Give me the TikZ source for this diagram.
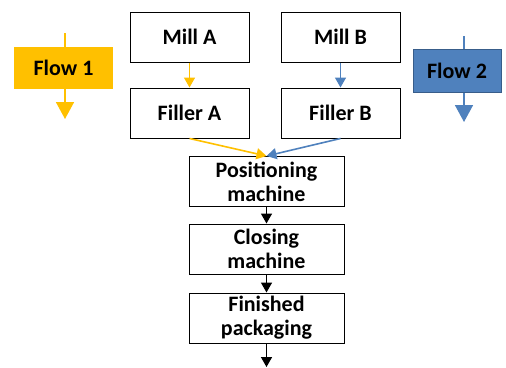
\documentclass[tikz,border=0pt]{standalone}
\usepackage{fontspec}
\setmainfont{Carlito}
\usepackage{xcolor}
\usetikzlibrary{arrows.meta}
\definecolor{flowgold}{RGB}{255, 192, 0}
\definecolor{flowblue}{RGB}{79, 129, 189}
\definecolor{flowblueedge}{RGB}{56, 93, 138}

\begin{document}
\begin{tikzpicture}[
    x=1pt, y=-1pt,
    font=\fontsize{22}{24}\selectfont\bfseries,
    box/.style={draw=black, line width=1pt, fill=white, align=center,
        minimum width=#1, minimum height=50pt, inner sep=2pt},
    box/.default=119pt,
    flowbox/.style={fill=#1, inner sep=0pt},
    link/.style={line width=1.6pt, -{Triangle[width=11pt,length=10pt]}},
    bigtip/.style={line width=1.6pt, -{Triangle[width=18pt,length=17pt]}}
]
    \useasboundingbox (0,0) rectangle (506,367);

    % ==========================================
    % COORDINATES
    % ==========================================
    \coordinate (millA_c) at (189.5, 37);
    \coordinate (millB_c) at (340.5, 37);
    \coordinate (fillA_c) at (189.5, 113);
    \coordinate (fillB_c) at (340.5, 113);

    \coordinate (pos_c)   at (266.5, 181.5);
    \coordinate (close_c) at (266.5, 249);
    \coordinate (fin_c)   at (266.5, 318);
    \coordinate (out_end) at (266.5, 367);

    % Legend arrows
    \coordinate (f1_top) at (65, 33);
    \coordinate (f1_bot) at (65, 119);
    \coordinate (f2_top) at (464, 36);
    \coordinate (f2_bot) at (464, 122);

    % ==========================================
    % LEGEND (Flow 1: Gold, Flow 2: Blue)
    % ==========================================
    \draw[flowgold, bigtip] (f1_top) -- (f1_bot);
    \draw[flowblue, bigtip] (f2_top) -- (f2_bot);

    \node[flowbox=flowgold, minimum width=99pt, minimum height=42pt]
        (flow1) at (63.5, 68) {Flow 1};
    \node[flowbox=flowblue, draw=flowblueedge, line width=0.8pt,
        minimum width=88pt, minimum height=43pt]
        (flow2) at (457, 70.5) {Flow 2};

    % ==========================================
    % MACHINE BOXES
    % ==========================================
    \node[box] (millA) at (millA_c) {Mill A};
    \node[box] (millB) at (millB_c) {Mill B};
    \node[box] (fillA) at (fillA_c) {Filler A};
    \node[box] (fillB) at (fillB_c) {Filler B};

    \node[box=155pt] (pos)   at (pos_c)   {Positioning\\machine};
    \node[box=155pt] (close) at (close_c) {Closing\\machine};
    \node[box=155pt] (fin)   at (fin_c)   {Finished\\packaging};

    % ==========================================
    % CONNECTORS
    % ==========================================
    \draw[flowgold, link] (millA) -- (fillA);
    \draw[flowblue, link] (millB) -- (fillB);

    \draw[flowgold, link] (fillA.south) -- (pos.north);
    \draw[flowblue, link] (fillB.south) -- (pos.north);

    \draw[black, link] (pos) -- (close);
    \draw[black, link] (close) -- (fin);
    \draw[black, link] (fin) -- (out_end);

\end{tikzpicture}
\end{document}
